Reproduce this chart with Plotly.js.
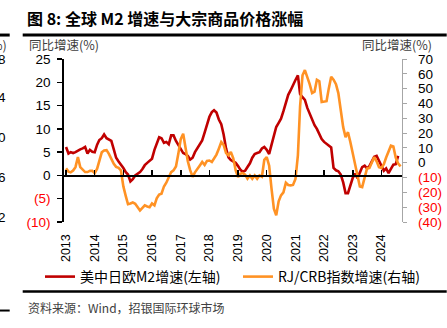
<!DOCTYPE html>
<html>
<head>
<meta charset="utf-8">
<script src="https://cdn.plot.ly/plotly-3.0.1.min.js"></script>
<style>html,body{margin:0;padding:0;background:#fff;}#chart{width:447px;height:328px;}</style>
</head>
<body>
<div id="chart"></div>
<script>
// Monthly data starting 2013-01
const startYear = 2013;
// 美中日欧M2增速 (left axis, %), 2013-01 .. 2024-08
const m2Growth = [
  6.1, 4.7, 5.0, 4.8, 5.0, 5.4, 5.6, 5.8, 6.1, 4.7, 5.5, 5.1,
  5.0, 6.6, 7.6, 8.0, 8.8, 8.0, 7.7, 7.4, 5.6, 3.8, 3.0, 2.4,
  1.6, 0.7, 0.2, -1.3, -0.8, 0.0, 0.4, 0.7, 1.4, 2.2, 2.7, 3.1,
  3.6, 5.5, 6.8, 8.2, 8.0, 7.0, 7.2, 6.7, 8.6, 8.6, 7.4, 6.5,
  5.4, 4.8, 4.6, 4.2, 3.4, 3.8, 5.0, 5.8, 6.8, 7.5, 9.2, 10.8,
  12.6, 13.6, 14.0, 13.5, 12.0, 11.0, 8.8, 5.8, 3.9, 3.3, 3.0, 2.7,
  2.0, 1.2, 0.8, 1.0, 1.8, 2.6, 3.8, 4.6, 4.8, 5.0, 5.8, 6.1,
  5.5, 4.6, 6.5, 8.6, 10.4, 11.3, 12.2, 13.8, 15.6, 17.3, 18.3, 19.5,
  20.5, 21.5, 17.5, 16.8, 16.2, 14.5, 13.2, 12.0, 10.8, 10.0, 8.8, 7.8,
  7.2, 6.8, 6.5, 6.0, 1.6, 1.1, 0.9, 0.2, -1.5, -3.8, -3.8, -2.0,
  -0.5, 0.4, -0.6, 0.6, 1.8, 2.1, 1.5, 2.0, 3.0, 4.0, 4.2, 3.2,
  2.2, 1.0, 1.5, 0.5, 1.4, 2.3, 2.4, 4.2
];
// RJ/CRB指数增速 (right axis, %), 2013-01 .. 2024-09
const crbGrowth = [
  -3.8, -6.0, -6.5, -5.3, -3.0, 3.8, -3.0, -5.0, -6.3, -6.3, -5.5, -5.5,
  -7.0, -4.0, 2.0, 7.0, 8.3, 8.5, 6.0, 2.5, -0.7, -2.8, -3.5, -5.2,
  -16.0, -22.5, -28.0, -27.5, -26.8, -27.7, -30.0, -32.2, -30.5, -28.8, -29.5, -30.0,
  -27.5, -28.8, -24.0, -21.5, -20.9, -16.0, -13.5, -10.0, -6.3, -5.2, -2.5, 6.0,
  16.0, 19.6, 10.0, 1.0, -5.0, -9.5, -6.5, -4.5, -1.8, 0.5, -1.5, 1.2,
  1.5, 0.5, 3.2, 5.5, 9.5, 13.9, 12.0, 6.5, 5.0, 7.2, 3.0, -5.0,
  -9.7, -7.4, -7.0, -8.0, -10.8, -8.6, -10.8, -8.6, -10.8, -8.6, -9.5, 2.0,
  3.8, -2.0, -17.0, -31.0, -35.5, -26.0, -22.0, -20.0, -13.5, -15.0, -15.3, -15.0,
  -11.0, 5.0, 38.0, 59.0, 62.5, 58.0, 53.0, 47.0, 48.0, 56.0, 55.0, 41.0,
  41.0, 41.5, 50.0, 58.0, 56.0, 53.0, 47.0, 34.0, 24.0, 17.3, 20.6, 14.0,
  6.5, -2.0, -7.5, -16.0, -16.5, -10.0, -4.0, -3.5, 0.0, 3.8, 1.0, -3.0,
  -3.5, -1.0, 3.5, 7.0, 11.5, 11.0, 3.5, -0.5, -2.5
];
const leftTicks = [-10, -5, 0, 5, 10, 15, 20, 25];
const rightTicks = [-40, -30, -20, -10, 0, 10, 20, 30, 40, 50, 60, 70];
const yearTicks = ['2013','2014','2015','2016','2017','2018','2019','2020','2021','2022','2023','2024'];
const seriesNames = ['美中日欧M2增速(左轴)', 'RJ/CRB指数增速(右轴)'];

function monthDates(n) {
  const out = [];
  for (let i = 0; i < n; i++) {
    const y = startYear + Math.floor(i / 12);
    const m = (i % 12) + 1;
    out.push(y + '-' + (m < 10 ? '0' + m : m) + '-01');
  }
  return out;
}
function fmt(v) {
  if (v < 0) return '<span style="color:#FF0000">(' + Math.abs(v) + ')</span>';
  return String(v);
}

const W = 447, H = 328;
const L = 64.3, R = 402.3, T = 59, B = 222.3;
const px = x => (x - L) / (R - L);
const py = y => (B - y) / (B - T);

const FONT = 'Liberation Sans, Arial, Noto Sans CJK SC, sans-serif';
const CJK = 'Noto Sans CJK SC, Liberation Sans, sans-serif';

const traces = [
  {
    x: monthDates(m2Growth.length), y: m2Growth, name: seriesNames[0],
    type: 'scatter', mode: 'lines', yaxis: 'y', legend: 'legend',
    line: {color: '#C00000', width: 2.6}
  },
  {
    x: monthDates(crbGrowth.length), y: crbGrowth, name: seriesNames[1],
    type: 'scatter', mode: 'lines', yaxis: 'y2', legend: 'legend2',
    line: {color: '#FF9224', width: 2.6}
  }
];

const legendBase = {
  orientation: 'h', xref: 'container', yref: 'container',
  y: 1 - 277 / H, xanchor: 'left', yanchor: 'middle',
  font: {family: CJK, size: 14, color: '#000'},
  bgcolor: 'rgba(0,0,0,0)', itemwidth: 30
};

const layout = {
  width: W, height: H,
  margin: {l: L, r: W - R, t: T, b: H - B, pad: 0},
  paper_bgcolor: '#fff', plot_bgcolor: 'rgba(0,0,0,0)',
  font: {family: FONT, size: 13, color: '#000'},
  showlegend: true,
  legend: Object.assign({}, legendBase, {x: 40 / W}),
  legend2: Object.assign({}, legendBase, {x: 238 / W}),
  title: {
    text: '<b>图 8: 全球 M2 增速与大宗商品价格涨幅</b>',
    x: 27 / W, xanchor: 'left', xref: 'container',
    y: 1 - 19 / H, yanchor: 'middle', yref: 'container',
    font: {family: CJK, size: 16, color: '#000'}
  },
  xaxis: {
    type: 'date',
    range: ['2012-12-06', '2024-09-19'],
    tickvals: yearTicks.map(y => y + '-01-01'),
    ticktext: yearTicks,
    tickangle: -90,
    anchor: 'free', position: 10 / 35, side: 'bottom',
    showline: true, linecolor: '#000', linewidth: 1.8,
    ticks: 'inside', ticklen: 5, tickwidth: 1.5, tickcolor: '#000',
    ticklabelstandoff: 52,
    tickfont: {family: FONT, size: 12.5, color: '#000'},
    showgrid: false, zeroline: false, fixedrange: true
  },
  yaxis: {
    range: [-10, 25],
    tickvals: leftTicks, ticktext: leftTicks.map(v => fmt(v)),
    showline: true, linecolor: '#000', linewidth: 1.8,
    ticks: 'outside', ticklen: 5, tickwidth: 1.5, tickcolor: '#000',
    ticklabelstandoff: 4,
    tickfont: {family: FONT, size: 13.5, color: '#000'},
    showgrid: false, zeroline: false
  },
  yaxis2: {
    range: [-40, 70], overlaying: 'y', side: 'right',
    tickvals: rightTicks, ticktext: rightTicks.map(v => fmt(v)),
    showline: true, linecolor: '#A6A6A6', linewidth: 1.2,
    ticks: 'outside', ticklen: 4, tickwidth: 1, tickcolor: '#A6A6A6',
    ticklabelstandoff: 8,
    tickfont: {family: FONT, size: 13.5, color: '#000'},
    showgrid: false, zeroline: false
  },
  annotations: [
    {text: '同比增速(%)', xref: 'paper', yref: 'paper', x: px(27), y: py(44.5), xanchor: 'left', yanchor: 'middle', showarrow: false, font: {family: CJK, size: 12.5, color: '#404040'}},
    {text: '同比增速(%)', xref: 'paper', yref: 'paper', x: px(360), y: py(44.5), xanchor: 'left', yanchor: 'middle', showarrow: false, font: {family: CJK, size: 12.5, color: '#404040'}},
    {text: '资料来源：Wind，招银国际环球市场', xref: 'paper', yref: 'paper', x: px(26), y: py(308), xanchor: 'left', yanchor: 'middle', showarrow: false, font: {family: CJK, size: 12, color: '#404040'}},
    // remnants of the neighbouring chart at the left edge
    {text: '%)', xref: 'paper', yref: 'paper', x: px(9), y: py(44.5), xanchor: 'right', yanchor: 'middle', showarrow: false, font: {family: CJK, size: 12.5, color: '#404040'}},
    {text: '8', xref: 'paper', yref: 'paper', x: px(8), y: py(59), xanchor: 'right', yanchor: 'middle', showarrow: false, font: {family: FONT, size: 13.5, color: '#000'}},
    {text: '4', xref: 'paper', yref: 'paper', x: px(8), y: py(98), xanchor: 'right', yanchor: 'middle', showarrow: false, font: {family: FONT, size: 13.5, color: '#000'}},
    {text: '0', xref: 'paper', yref: 'paper', x: px(8), y: py(138), xanchor: 'right', yanchor: 'middle', showarrow: false, font: {family: FONT, size: 13.5, color: '#000'}},
    {text: '6', xref: 'paper', yref: 'paper', x: px(8), y: py(178), xanchor: 'right', yanchor: 'middle', showarrow: false, font: {family: FONT, size: 13.5, color: '#000'}},
    {text: '2', xref: 'paper', yref: 'paper', x: px(8), y: py(218), xanchor: 'right', yanchor: 'middle', showarrow: false, font: {family: FONT, size: 13.5, color: '#000'}}
  ],
  shapes: [
    {type: 'line', xref: 'paper', yref: 'paper', x0: px(23), x1: px(447), y0: py(35), y1: py(35), line: {color: '#000', width: 3}},
    {type: 'line', xref: 'paper', yref: 'paper', x0: px(23), x1: px(447), y0: py(292), y1: py(292), line: {color: '#000', width: 2.5}},
    {type: 'line', xref: 'paper', yref: 'paper', x0: px(0), x1: px(10), y0: py(35), y1: py(35), line: {color: '#000', width: 3}},
    {type: 'line', xref: 'paper', yref: 'paper', x0: px(0), x1: px(10), y0: py(311), y1: py(311), line: {color: '#000', width: 2}}
  ]
};

Plotly.newPlot('chart', traces, layout, {displayModeBar: false, staticPlot: true});
</script>
</body>
</html>
